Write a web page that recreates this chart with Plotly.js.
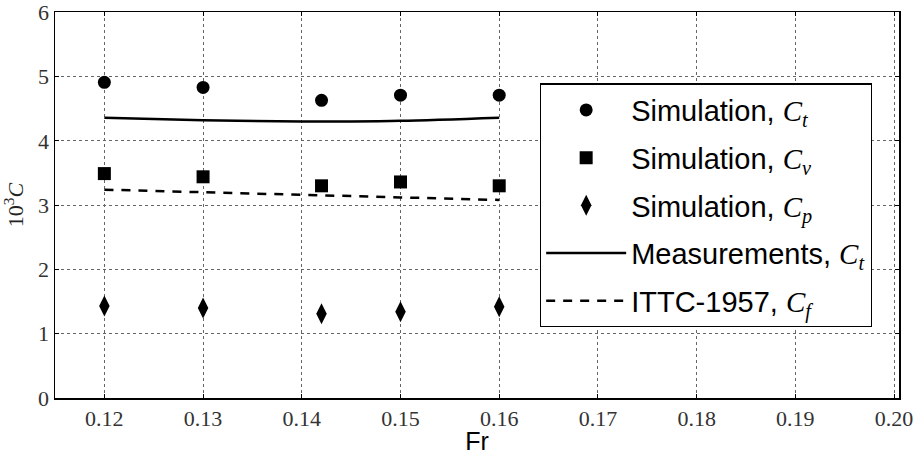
<!DOCTYPE html>
<html>
<head>
<meta charset="utf-8">
<script src="https://cdn.plot.ly/plotly-3.0.1.min.js"></script>
<style>html,body{margin:0;padding:0;background:#fff;}#chart{width:922px;height:455px;}</style>
</head>
<body>
<div id="chart"></div>
<script>
// Froude numbers of the simulations
const fr = [0.12, 0.13, 0.142, 0.15, 0.16];
// 10^3 * coefficients from simulation
const simCt = [4.91, 4.83, 4.63, 4.71, 4.71];
const simCv = [3.49, 3.44, 3.30, 3.36, 3.30];
const simCp = [1.43, 1.40, 1.31, 1.34, 1.42];
// Measurement curve
const measFr = [0.12, 0.13, 0.14, 0.145, 0.15, 0.16];
const measCt = [4.36, 4.32, 4.30, 4.30, 4.31, 4.36];
// ITTC-1957 friction line
const ittcFr = [0.12, 0.13, 0.14, 0.15, 0.16];
const ittcCf = [3.24, 3.20, 3.16, 3.12, 3.08];
// Axis ticks
const xTicks = [0.12, 0.13, 0.14, 0.15, 0.16, 0.17, 0.18, 0.19, 0.20];
const xTickText = ['0.12', '0.13', '0.14', '0.15', '0.16', '0.17', '0.18', '0.19', '0.20'];
const yTicks = [0, 1, 2, 3, 4, 5, 6];

const serif = "'Liberation Serif', 'DejaVu Serif', serif";
const sans = "'Liberation Sans', Arial, sans-serif";
function mathC(sub) {
  return "<span style=\"font-family:Liberation Serif\"><i>C</i><sub><i>" + sub + "</i></sub></span>";
}

const traces = [
  {x: fr, y: simCt, mode: 'markers', type: 'scatter', name: 'Simulation, ' + mathC('t'), legendgroup: 'a',
   marker: {symbol: 'circle', size: 13, color: '#000'}},
  {x: fr, y: simCv, mode: 'markers', type: 'scatter', name: 'Simulation, ' + mathC('v'), legendgroup: 'b',
   marker: {symbol: 'square', size: 13, color: '#000'}},
  {x: fr, y: simCp, mode: 'markers', type: 'scatter', name: 'Simulation, ' + mathC('p'), legendgroup: 'c',
   marker: {symbol: 'diamond-tall', size: 15, color: '#000'}},
  {x: measFr, y: measCt, mode: 'lines', type: 'scatter', name: 'Measurements, ' + mathC('t'), legendgroup: 'd',
   line: {color: '#000', width: 2.5, shape: 'spline', smoothing: 1}},
  {x: ittcFr, y: ittcCf, mode: 'lines', type: 'scatter', name: 'ITTC-1957, ' + mathC('f'), legendgroup: 'e',
   line: {color: '#000', width: 2.5, dash: '9px,8px', shape: 'spline'}}
];

const axisCommon = {
  showline: true, linecolor: '#000', linewidth: 1.5, mirror: 'allticks',
  ticks: 'inside', ticklen: 4, tickcolor: '#000', tickwidth: 1,
  showgrid: true, gridcolor: '#666', gridwidth: 1, griddash: 'dot',
  zeroline: false, ticklabeloverflow: 'allow',
  tickfont: {family: serif, size: 22, color: '#333'}
};

const layout = {
  width: 922, height: 455,
  margin: {l: 55, r: 23, t: 12, b: 57},
  paper_bgcolor: '#fff', plot_bgcolor: '#fff',
  showlegend: true,
  legend: {
    x: 0.5746, y: 0.815, xanchor: 'left', yanchor: 'top',
    bordercolor: '#000', borderwidth: 1.2, bgcolor: '#fff',
    font: {family: sans, size: 29, color: '#000'},
    itemwidth: 80, traceorder: 'grouped', tracegroupgap: 7
  },
  xaxis: Object.assign({}, axisCommon, {
    range: [0.115, 0.2005], tickvals: xTicks, ticktext: xTickText,
    title: {text: 'Fr', font: {family: sans, size: 25, color: '#000'}, standoff: 0}
  }),
  yaxis: Object.assign({}, axisCommon, {
    range: [0, 6.003], tickvals: yTicks,
    title: {text: '10<sup>3</sup><i>C</i>', font: {family: serif, size: 22, color: '#222'}, standoff: 8}
  })
};

Plotly.newPlot('chart', traces, layout, {displayModeBar: false, staticPlot: true});
</script>
</body>
</html>
